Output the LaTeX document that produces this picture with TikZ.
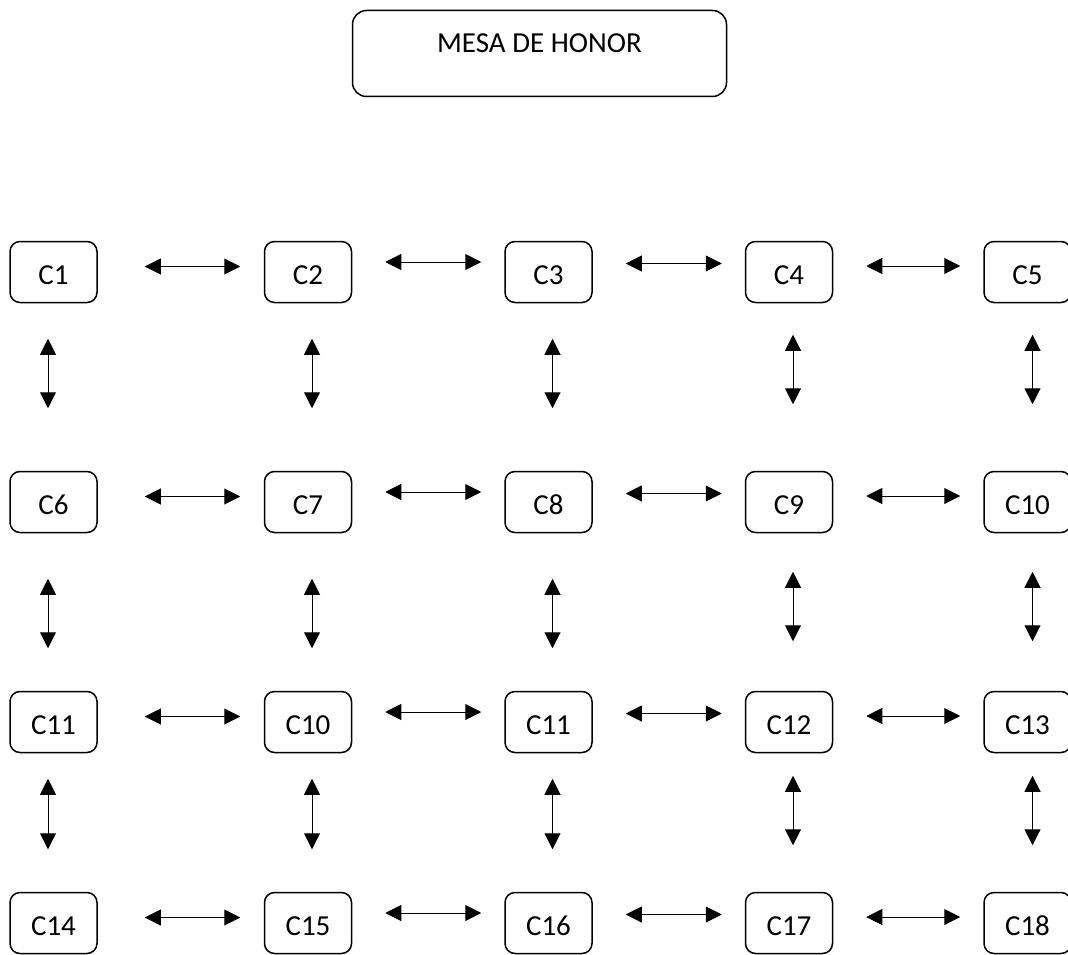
\documentclass[tikz,border=0pt]{standalone}
\usepackage{fontspec}
\setmainfont{Carlito}
\usetikzlibrary{arrows.meta}

\begin{document}
\begin{tikzpicture}[x=1pt, y=-1pt,
  font=\fontsize{29}{35}\selectfont,
  seat/.style={draw, line width=1.5pt, rounded corners=10pt, minimum width=87pt, minimum height=61pt, inner sep=0pt, text height=24.7pt, text depth=0pt},
  honor/.style={draw, line width=1.5pt, rounded corners=14pt, minimum width=374pt, minimum height=86pt, inner sep=0pt, text height=0pt, text depth=1.7pt},
  link/.style={{Triangle[length=16pt,width=16pt]}-{Triangle[length=16pt,width=16pt]}, line width=1pt},
  h1/.style={shorten <=47pt, shorten >=23.5pt},
  h2/.style={shorten <=33pt, shorten >=23pt},
  v1/.style={shorten <=35.5pt, shorten >=62.5pt},
  v1r/.style={shorten <=31.5pt, shorten >=66.5pt},
  v2/.style={shorten <=45.5pt, shorten >=42.5pt},
  v2r/.style={shorten <=38.5pt, shorten >=49.5pt},
  v3/.style={shorten <=25.5pt, shorten >=42.5pt},
  v3r/.style={shorten <=22.5pt, shorten >=46.5pt}]
\useasboundingbox (0,0) rectangle (1068,955);
\clip (0,0) rectangle (1068,955);

% Head table
\node[honor] (mesa) at (539.5,53.5) {MESA DE HONOR};

% Tables
\node[seat] (r1c1) at (53.5,272) {C1};
\node[seat] (r1c2) at (308,272) {C2};
\node[seat] (r1c3) at (548.5,272) {C3};
\node[seat] (r1c4) at (789,272) {C4};
\node[seat] (r1c5) at (1027.5,272) {C5};

\node[seat] (r2c1) at (53.5,502) {C6};
\node[seat] (r2c2) at (308,502) {C7};
\node[seat] (r2c3) at (548.5,502) {C8};
\node[seat] (r2c4) at (789,502) {C9};
\node[seat] (r2c5) at (1027.5,502) {C10};

\node[seat] (r3c1) at (53.5,722) {C11};
\node[seat] (r3c2) at (308,722) {C10};
\node[seat] (r3c3) at (548.5,722) {C11};
\node[seat] (r3c4) at (789,722) {C12};
\node[seat] (r3c5) at (1027.5,722) {C13};

\node[seat] (r4c1) at (53.5,923) {C14};
\node[seat] (r4c2) at (308,923) {C15};
\node[seat] (r4c3) at (548.5,923) {C16};
\node[seat] (r4c4) at (789,923) {C17};
\node[seat] (r4c5) at (1027.5,923) {C18};

% Arrows across
\draw[link,h1] ([yshift=5.5pt]r1c1.east) -- ([yshift=5.5pt]r1c2.west);
\draw[link,h2] ([yshift=10pt]r1c2.east) -- ([yshift=10pt]r1c3.west);
\draw[link,h2] ([yshift=8.5pt]r1c3.east) -- ([yshift=8.5pt]r1c4.west);
\draw[link,h2] ([yshift=6pt]r1c4.east) -- ([yshift=6pt]r1c5.west);

\draw[link,h1] ([yshift=5.5pt]r2c1.east) -- ([yshift=5.5pt]r2c2.west);
\draw[link,h2] ([yshift=10pt]r2c2.east) -- ([yshift=10pt]r2c3.west);
\draw[link,h2] ([yshift=8.5pt]r2c3.east) -- ([yshift=8.5pt]r2c4.west);
\draw[link,h2] ([yshift=6pt]r2c4.east) -- ([yshift=6pt]r2c5.west);

\draw[link,h1] ([yshift=5.5pt]r3c1.east) -- ([yshift=5.5pt]r3c2.west);
\draw[link,h2] ([yshift=10pt]r3c2.east) -- ([yshift=10pt]r3c3.west);
\draw[link,h2] ([yshift=8.5pt]r3c3.east) -- ([yshift=8.5pt]r3c4.west);
\draw[link,h2] ([yshift=6pt]r3c4.east) -- ([yshift=6pt]r3c5.west);

\draw[link,h1] ([yshift=5.5pt]r4c1.east) -- ([yshift=5.5pt]r4c2.west);
\draw[link,h2] ([yshift=10pt]r4c2.east) -- ([yshift=10pt]r4c3.west);
\draw[link,h2] ([yshift=8.5pt]r4c3.east) -- ([yshift=8.5pt]r4c4.west);
\draw[link,h2] ([yshift=6pt]r4c4.east) -- ([yshift=6pt]r4c5.west);

% Arrows down
\draw[link,v1] ([xshift=-5.5pt]r1c1.south) -- ([xshift=-5.5pt]r2c1.north);
\draw[link,v1] ([xshift=4pt]r1c2.south) -- ([xshift=4pt]r2c2.north);
\draw[link,v1] ([xshift=4pt]r1c3.south) -- ([xshift=4pt]r2c3.north);
\draw[link,v1r] ([xshift=4pt]r1c4.south) -- ([xshift=4pt]r2c4.north);
\draw[link,v1r] ([xshift=5pt]r1c5.south) -- ([xshift=5pt]r2c5.north);

\draw[link,v2] ([xshift=-5.5pt]r2c1.south) -- ([xshift=-5.5pt]r3c1.north);
\draw[link,v2] ([xshift=4pt]r2c2.south) -- ([xshift=4pt]r3c2.north);
\draw[link,v2] ([xshift=4pt]r2c3.south) -- ([xshift=4pt]r3c3.north);
\draw[link,v2r] ([xshift=4pt]r2c4.south) -- ([xshift=4pt]r3c4.north);
\draw[link,v2r] ([xshift=5pt]r2c5.south) -- ([xshift=5pt]r3c5.north);

\draw[link,v3] ([xshift=-5.5pt]r3c1.south) -- ([xshift=-5.5pt]r4c1.north);
\draw[link,v3] ([xshift=4pt]r3c2.south) -- ([xshift=4pt]r4c2.north);
\draw[link,v3] ([xshift=4pt]r3c3.south) -- ([xshift=4pt]r4c3.north);
\draw[link,v3r] ([xshift=4pt]r3c4.south) -- ([xshift=4pt]r4c4.north);
\draw[link,v3r] ([xshift=5pt]r3c5.south) -- ([xshift=5pt]r4c5.north);
\end{tikzpicture}
\end{document}
